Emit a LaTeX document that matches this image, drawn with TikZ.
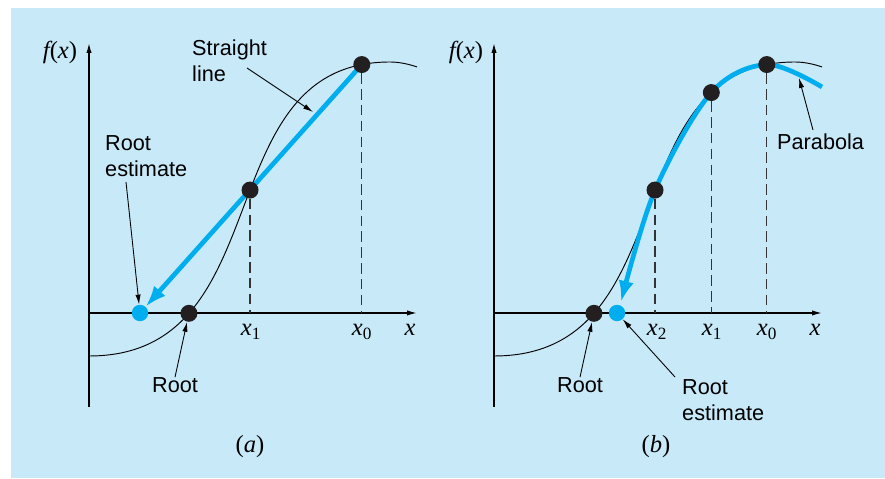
\documentclass[tikz,border=0pt]{standalone}
\usepackage{fontspec}
\setmainfont{Liberation Sans}
\newfontfamily\serif{Liberation Serif}
\usetikzlibrary{arrows.meta}
\definecolor{panelbg}{RGB}{199,233,248}
\definecolor{estblue}{RGB}{0,174,239}
\definecolor{dotblack}{RGB}{35,31,32}
\newcommand{\xsub}[1]{{\itshape x}\textsubscript{#1}}

\begin{document}
\begin{tikzpicture}[x=0.03cm,y=0.03cm,>={Latex[length=8.5pt,width=4.5pt]},
  dot/.style={circle,fill=dotblack,inner sep=0pt,minimum size=14.5pt},
  estdot/.style={circle,fill=estblue,inner sep=0pt,minimum size=14pt},
  txt/.style={font=\fontsize{18.5}{22}\selectfont,align=left,inner sep=0pt},
  mtxt/.style={font=\serif\fontsize{21}{25}\selectfont,inner sep=0pt},
  axisline/.style={line width=1.1pt,->},
  guide/.style={dash pattern=on 9pt off 4.5pt,line width=1pt,black!80},
  estline/.style={estblue,line width=4pt,-{Latex[length=18pt,width=13pt]}},
  pointer/.style={line width=0.75pt,->}]
  % panel background
  \useasboundingbox (0,0) rectangle (885,479);
  \fill[panelbg] (11,1) rectangle (885,471);

  % ---------- (a) straight line ----------
  \coordinate (oa) at (89,166);
  \coordinate (ya) at (89,436);
  \coordinate (ybota) at (89,72);
  \coordinate (xenda) at (417,166);

  % function, with the root, x1 and x0 picked off it
  \draw[line width=0.8pt] (89,123) .. controls (282.6,123) and (205.2,417) .. (390,417)
    coordinate[pos=0.24] (cra) coordinate[pos=0.543] (c1a) coordinate[pos=0.945] (c0a)
    .. controls (400,417) and (410,414.5) .. (417,412);

  % axes
  \draw[axisline] (ybota) -- (ya);
  \draw[axisline] (oa) -- (xenda);

  % straight line to the estimate
  \node[estdot] (esta) at (140,166) {};
  \draw[estline] (c0a) -- (esta);

  % points
  \node[dot] (p0a) at (c0a) {};
  \node[dot] (p1a) at (c1a) {};
  \node[dot] (pra) at (cra) {};
  \draw[guide] (p1a) -- (p1a |- oa);
  \draw[guide] (p0a) -- (p0a |- oa);

  % labels
  \node[mtxt] (fxa) at (60,427) {{\itshape f}({\itshape x})};
  \node[mtxt] (xa) at (410,149) {\itshape x};
  \node[mtxt] (lx1a) at (251,147) {\xsub{1}};
  \node[mtxt] (lx0a) at (362,147) {\xsub{0}};
  \node[mtxt] (capa) at (250,32) {(\textit{a})};

  \node[txt,anchor=west] (sla) at (192,418) {Straight\\line};
  \coordinate (slatail) at (247,411);
  \coordinate (slatip) at (313,367);
  \draw[pointer] (slatail) -- (slatip);

  \node[txt,anchor=west] (rea) at (105,323) {Root\\estimate};
  \coordinate (reatail) at (126,297);
  \draw[pointer] (reatail) -- (esta);

  \node[txt] (roa) at (175,94) {Root};
  \draw[pointer] (roa.north) -- (pra);

  % ---------- (b) parabola ----------
  \coordinate (ob) at (494,166);
  \coordinate (yb) at (494,436);
  \coordinate (ybotb) at (494,72);
  \coordinate (xendb) at (822,166);

  % function, with the root, x2, x1 and x0 picked off it
  \draw[line width=0.8pt] (494,123) .. controls (687.6,123) and (610.2,417) .. (795,417)
    coordinate[pos=0.24] (crb) coordinate[pos=0.543] (c2b) coordinate[pos=0.8] (c1b)
    coordinate[pos=0.945] (c0b)
    .. controls (805,417) and (815,414.5) .. (822,412);

  % axes
  \draw[axisline] (ybotb) -- (yb);
  \draw[axisline] (ob) -- (xendb);

  % parabola through the three points
  \node[estdot] (estb) at (617,166) {};
  \draw[estline] plot[smooth,tension=0.55] coordinates {(822,392) (c0b) (c1b) (c2b) (621,177)};

  % points
  \node[dot] (p0b) at (c0b) {};
  \node[dot] (p1b) at (c1b) {};
  \node[dot] (p2b) at (c2b) {};
  \node[dot] (prb) at (crb) {};
  \draw[guide] (p2b) -- (p2b |- ob);
  \draw[guide] (p1b) -- (p1b |- ob);
  \draw[guide] (p0b) -- (p0b |- ob);

  % labels
  \node[mtxt] (fxb) at (466,427) {{\itshape f}({\itshape x})};
  \node[mtxt] (xb) at (815,149) {\itshape x};
  \node[mtxt] (lx2b) at (657,147) {\xsub{2}};
  \node[mtxt] (lx1b) at (712,147) {\xsub{1}};
  \node[mtxt] (lx0b) at (767,147) {\xsub{0}};
  \node[mtxt] (capb) at (656,32) {(\textit{b})};

  \node[txt,anchor=west] (parb) at (777,337) {Parabola};
  \coordinate (parbtail) at (813,349);
  \coordinate (parbtip) at (799,401);
  \draw[pointer] (parbtail) -- (parbtip);

  \node[txt] (rob) at (580,94) {Root};
  \draw[pointer] (rob.north) -- (prb);

  \node[txt,anchor=west] (reb) at (682,79) {Root\\estimate};
  \coordinate (rebtail) at (675,102);
  \draw[pointer] (rebtail) -- (estb);
\end{tikzpicture}
\end{document}
